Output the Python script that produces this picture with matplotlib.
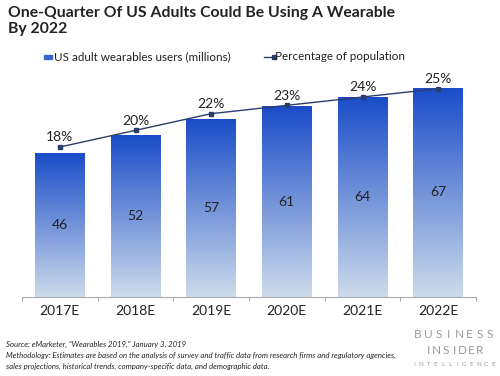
"""Recreate the Business Insider wearables users chart."""

import matplotlib

matplotlib.use("Agg")
import matplotlib.pyplot as plt
import numpy as np

years = ["2017E", "2018E", "2019E", "2020E", "2021E", "2022E"]
users_millions = [46, 52, 57, 61, 64, 67]
pct_population = [18, 20, 22, 23, 24, 25]

FONT = "Lato"
DARK_BLUE = "#1a4cc8"
LIGHT_BLUE = "#cddbeb"
LINE_COLOR = "#2b3d6b"
LOGO_GRAY = "#9a9a9a"

plt.rcParams["font.family"] = [FONT, "DejaVu Sans"]


def spread_text(fig, word, x0, x1, y, size):
    # letter-spaced logo text, letters evenly placed between x0 and x1 (pixels)
    xs = np.linspace(x0, x1, len(word))
    for xc, ch in zip(xs, word):
        fig.text(xc / 500, 1 - y / 376, ch, fontsize=size, color=LOGO_GRAY,
                 ha="center", va="center")


fig = plt.figure(figsize=(5.0, 3.76), dpi=100)
ax = fig.add_axes([0.044, 0.21, 0.908, 0.665])
ax2 = ax.twinx()

x = np.arange(len(years))
bars = ax.bar(x, users_millions, width=0.66, color="none", edgecolor="none", zorder=2)

# vertical gradient fill inside each bar
grad = np.linspace(0, 1, 256).reshape(-1, 1)
cmap = matplotlib.colors.LinearSegmentedColormap.from_list("bi", [LIGHT_BLUE, DARK_BLUE])
for bar in bars:
    x0, w, h = bar.get_x(), bar.get_width(), bar.get_height()
    im = ax.imshow(grad, cmap=cmap, aspect="auto", origin="lower",
                   extent=(x0, x0 + w, 0, h), zorder=1)
    im.set_clip_path(bar)

for xi, v in zip(x, users_millions):
    ax.text(xi, v / 2, f"{v}", ha="center", va="center", fontsize=10, color="#222222")

ax.set_xlim(-0.5, len(years) - 0.5)
ax.set_ylim(0, 80)
ax2.set_ylim(0, 30)

ax2.plot(x, pct_population, color=LINE_COLOR, lw=1.0, marker="s", ms=2.5, zorder=3)
for xi, p in zip(x, pct_population):
    ax2.text(xi, p + 0.45, f"{p}%", ha="center", va="bottom", fontsize=10, color="#222222")

for a in (ax, ax2):
    for s in ("top", "right", "left"):
        a.spines[s].set_visible(False)
    a.set_yticks([])
ax2.spines["bottom"].set_visible(False)
ax.spines["bottom"].set_color("#aaaaaa")
ax.spines["bottom"].set_linewidth(0.8)

ax.set_xticks(x)
ax.set_xticklabels(years, fontsize=10, color="#222222")
ax.tick_params(axis="x", length=0, pad=6)
ax.set_xticks(np.arange(-0.5, len(years)), minor=True)
ax.tick_params(axis="x", which="minor", length=3, color="#aaaaaa", width=0.8)

# title
fig.text(0.016, 0.985, "One-Quarter Of US Adults Could Be Using A Wearable\nBy 2022",
         fontsize=11.3, fontweight="bold", color="#222222", va="top", linespacing=1.25)

# legend
fig.patches.append(matplotlib.patches.Rectangle((0.088, 0.843), 0.016, 0.012,
                                                transform=fig.transFigure,
                                                color="#3a66cc"))
fig.text(0.107, 0.849, "US adult wearables users (millions)", fontsize=8.4,
         va="center", color="#222222")
fig.lines.append(matplotlib.lines.Line2D([0.528, 0.548], [0.849, 0.849],
                                         transform=fig.transFigure, color=LINE_COLOR,
                                         lw=1.0, marker="s", ms=2.5, markevery=[1]))
fig.text(0.550, 0.849, "Percentage of population", fontsize=8.4, va="center", color="#222222")

# footer
fig.text(0.012, 0.078, "Source: eMarketer, \"Wearables 2019,\" January 3, 2019",
         fontsize=5.6, style="italic", color="#222222")
fig.text(0.012, 0.020,
         "Methodology: Estimates are based on the analysis of survey and traffic data from "
         "research firms and regulatory agencies,\nsales projections, historical trends, "
         "company-specific data, and demographic data.",
         fontsize=5.6, style="italic", color="#222222", linespacing=1.5)

# logo
spread_text(fig, "BUSINESS", 418, 490, 335, 8.5)
spread_text(fig, "INSIDER", 428, 480, 350, 8.5)
spread_text(fig, "INTELLIGENCE", 414, 493, 364, 4.5)

fig.savefig("out.png", dpi=100)
